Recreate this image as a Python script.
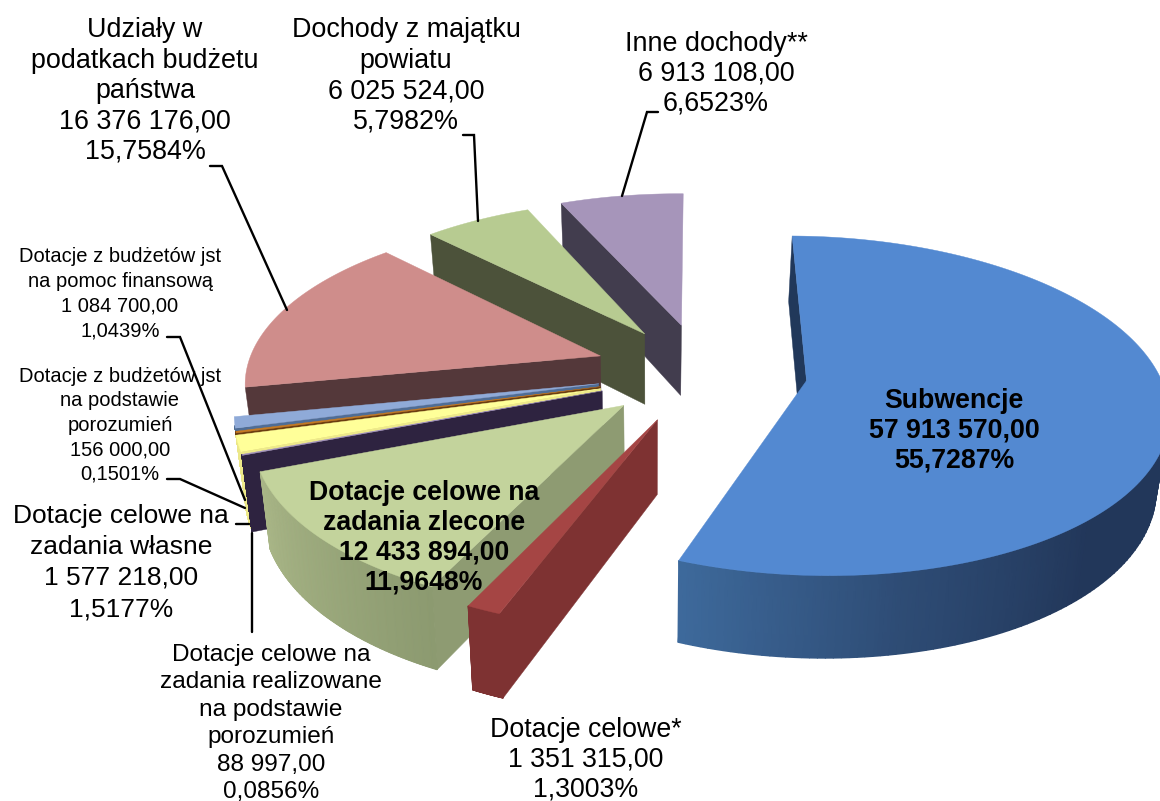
import numpy as np, matplotlib
matplotlib.use("Agg")
import matplotlib.pyplot as plt, seaborn as sns

sns.set_theme(style="white")
plt.rcParams['font.family'] = ['Liberation Sans', 'DejaVu Sans']

# ---- data ----
names = ["Subwencje", "Dotacje celowe*", "Dotacje celowe na\nzadania zlecone",
         "Dotacje celowe na\nzadania realizowane\nna podstawie\nporozumień",
         "Dotacje celowe na\nzadania własne", "Dotacje z budżetów jst\nna podstawie\nporozumień",
         "Dotacje z budżetów jst\nna pomoc finansową", "Udziały w\npodatkach budżetu\npaństwa",
         "Dochody z majątku\npowiatu", "Inne dochody**"]
amounts = [57913570.0, 1351315.0, 12433894.0, 88997.0, 1577218.0, 156000.0, 1084700.0,
           16376176.0, 6025524.0, 6913108.0]
percents = ["55,7287%", "1,3003%", "11,9648%", "0,0856%", "1,5177%", "0,1501%", "1,0439%",
            "15,7584%", "5,7982%", "6,6523%"]

# ---- styles ----
tops = ["#5389D1", "#A54544", "#C3D39C", "#9F8FBF", "#FFFF99", "#C87A20", "#8FAAD8", "#CF8D8B", "#B7CB91", "#A695BA"]
walls = ["#21385A", "#7E3232", "#8E9B72", "#2E2340", "#EDE98A", "#6B3D10", "#4F6D96", "#54383A", "#4C523A", "#423D4E"]
arc_walls = [["#22375A", "#22375A", "#2E4C75", "#3E6A9C"], ["#7E3232", "#7E3232"], ["#8C9A70", "#A9B687"],
             ["#2E2340", "#2E2340"], ["#EDE98A", "#EDE98A"], ["#6B3D10", "#6B3D10"], ["#4F6D96", "#4F6D96"],
             ["#54383A", "#54383A"], ["#4C523A", "#4C523A"], ["#423D4E", "#423D4E"]]

# ---- view of the exploded 3D pie ----
view = [366.1843, 61.8098, 806.5001, -10.6174, -109.2091, 380.6593, 0.0176, 0.1471]
start_angle = 83.471
explode = [(0, 0), (-.4381, -.1824), (-.5222, -.0917), (-.5747, -.0010), (-.5775, .0122),
           (-.5784, .0246), (-.5810, .0423), (-.5638, .2120), (-.4243, .3397), (-.3113, .3840)]

frac = np.array(amounts) / np.sum(amounts)
edges = np.r_[0, np.cumsum(frac)] * 360


def project(u, v):
    a, b, c, d, e, f, g, p = view
    w = 1 + g * u + p * v
    return (a * u + b * v + c) / w, (d * u + e * v + f) / w


def extrude(x, y):
    """Bottom of the pie: drawn lower, and slightly narrower because it is further away."""
    return x + (650 - x) * 0.025, y + 70 + (y - 325) * 0.05


fig = plt.figure(figsize=(11.6, 8.01), dpi=100)
ax = fig.add_axes([0, 0, 1, 1])
ax.set_xlim(0, 1160)
ax.set_ylim(801, 0)
ax.axis('off')

for i in range(len(amounts) - 1, -1, -1):
    z = 10 + (len(amounts) - i) * 2
    th = np.deg2rad(start_angle - np.linspace(edges[i], edges[i + 1], 181))
    ox, oy = explode[i]
    ax0, ay0 = project(ox, oy)
    tx, ty = project(ox + np.cos(th), oy + np.sin(th))
    bx, by = extrude(tx, ty)
    bax, bay = extrude(ax0, ay0)
    # radial wall on the edge that faces the viewer
    ax.fill([ax0, tx[0], bx[0], bax], [ay0, ty[0], by[0], bay], facecolor=walls[i],
            edgecolor=walls[i], lw=0.3, zorder=z)
    # outer wall: only the part that faces the viewer, shaded along the arc
    cross = np.gradient(tx) * (by - ty) - np.gradient(ty) * (bx - tx)
    vis = cross < 0
    if vis.sum() >= 2:
        X = np.vstack([tx[vis], bx[vis]])
        Y = np.vstack([ty[vis], by[vis]])
        C = np.tile(np.linspace(0, 1, vis.sum()), (2, 1))
        cmap = sns.blend_palette(arc_walls[i], as_cmap=True)
        ax.pcolormesh(X, Y, C, shading='gouraud', cmap=cmap, zorder=z, rasterized=True)
    # top surface
    ax.fill(np.r_[ax0, tx], np.r_[ay0, ty], facecolor=tops[i], edgecolor=tops[i], lw=0.3, zorder=z + 1)

# ---- labels ----
def fmt(v):
    return f"{v:,.2f}".replace(",", " ").replace(".", ",")


label_pos = [(954, 408, 30), (586, 737, 30), (424, 500, 30), (271, 661, 27.4), (121, 523, 31),
             (120, 382, 24.5), (120, 262, 24.7), (145, 37, 30.5), (406, 37, 30.5), (716, 51, 30)]
label_size = [19.3, 19.3, 19.2, 17.6, 19.0, 14.5, 14.5, 19.4, 19.4, 19.4]
label_weight = ["bold", "normal", "bold", "normal", "normal", "normal", "normal", "normal", "normal", "normal"]
for i, (x, y, step) in enumerate(label_pos):
    lines = names[i].split("\n") + [fmt(amounts[i]), percents[i]]
    for k, line in enumerate(lines):
        ax.text(x, y + k * step, line, ha='center', va='baseline', color='black', zorder=40,
                fontsize=label_size[i], fontweight=label_weight[i])

leaders = [[(210, 166), (222, 166), (287, 310)], [(463, 135), (474, 135), (478, 221)],
           [(658, 112), (647, 112), (622, 196)], [(167, 337), (180, 337), (245, 500)],
           [(167, 479), (180, 479), (245, 508)], [(236, 524), (249, 524)], [(252, 533), (252, 632)]]
for seg in leaders:
    xs, ys = zip(*seg)
    ax.plot(xs, ys, color='black', lw=1.7, solid_joinstyle='miter', zorder=35)

fig.savefig("out.png", dpi=100)
